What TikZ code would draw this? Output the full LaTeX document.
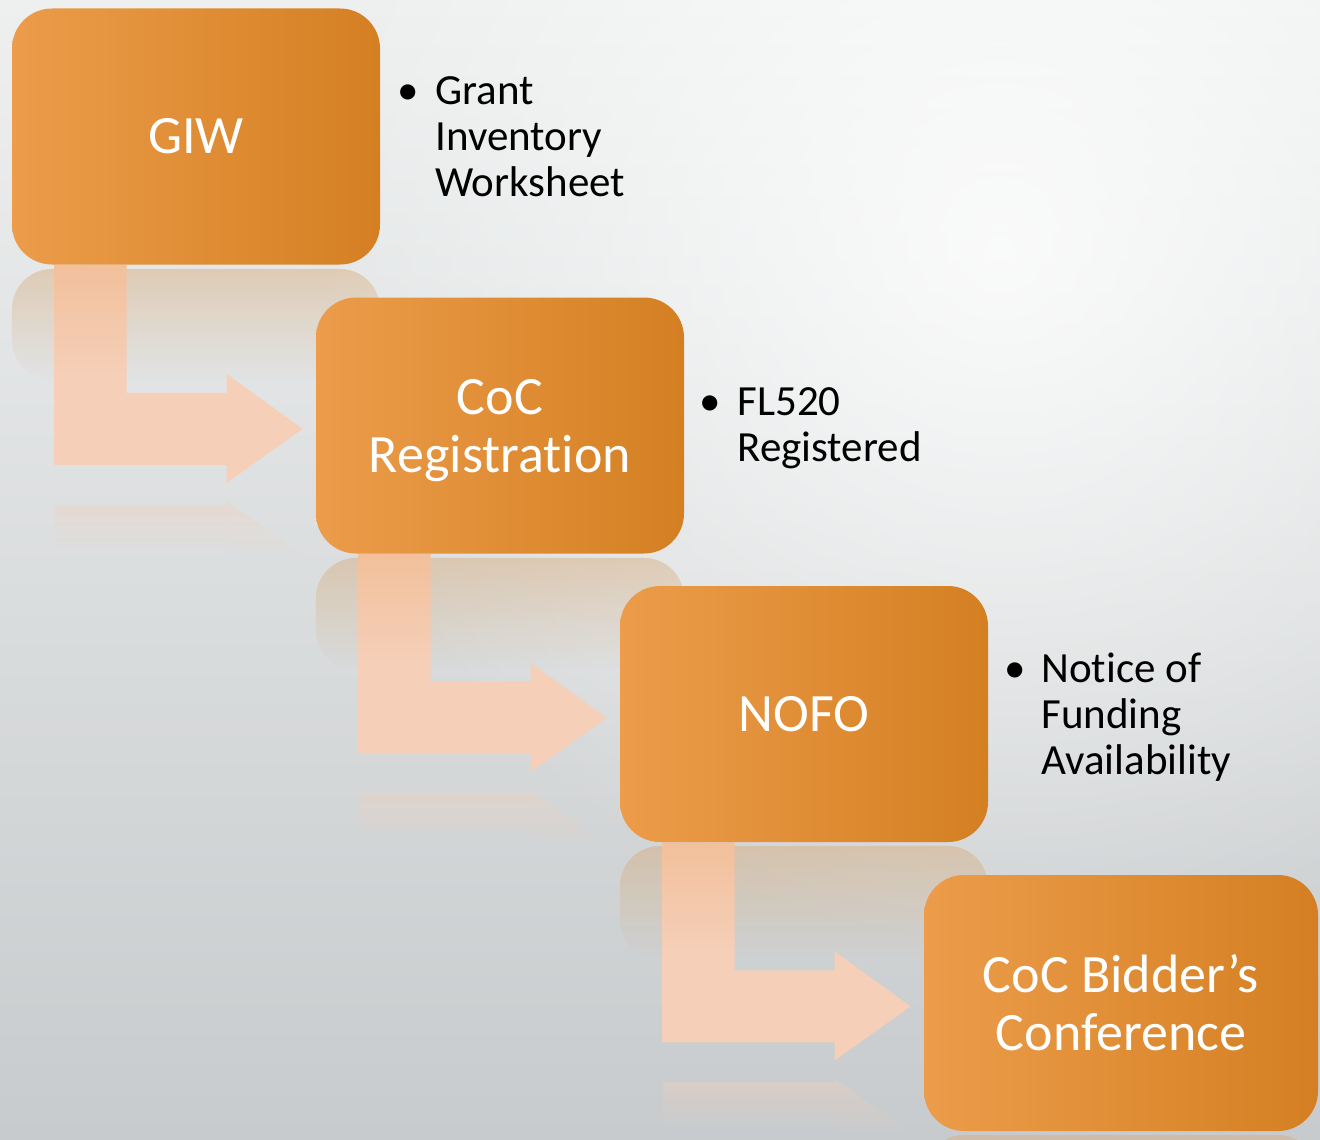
\documentclass[tikz,border=0pt]{standalone}
\usepackage{fontspec}
\setmainfont[Ligatures=NoCommon]{Carlito}
\usetikzlibrary{fadings}

\definecolor{bgtop}{RGB}{238,240,240}
\definecolor{bgbot}{RGB}{200,203,205}
\definecolor{boxlight}{RGB}{236,156,74}
\definecolor{boxdark}{RGB}{212,127,34}
\definecolor{arrowpeach}{RGB}{245,207,184}
\definecolor{arrowtop}{RGB}{242,192,155}
\definecolor{reflecttan}{RGB}{214,170,120}

\pgfdeclarelayer{back}
\pgfdeclarelayer{arrows}
\pgfsetlayers{back,arrows,main}

\tikzfading[name=softglow, inner color=transparent!0, outer color=transparent!100]

\tikzset{every picture/.style={line width=0.75pt}}
\tikzset{
  stepbox/.style={rounded corners=20pt, minimum width=184pt, minimum height=128pt,
    left color=boxlight, right color=boxdark, text=white, align=center,
    font=\fontsize{27}{29}\selectfont, inner sep=0pt},
  bulletnote/.style={anchor=north west, align=left, inner sep=0pt,
    font=\fontsize{21.5}{23}\selectfont},
  bentarrow/.style={top color=arrowtop, bottom color=arrowpeach, middle color=arrowpeach},
  reflect/.style={fill=reflecttan, fill opacity=0.45, path fading=south},
}

\newcommand{\bentarrowshape}[1]{%
  \begin{scope}[shift={(#1.south west)}]
    % faint reflection under the bar
    \fill[fill=arrowpeach, fill opacity=0.35, path fading=south] (43,240) rectangle (215,285);
    \fill[fill=arrowpeach, fill opacity=0.35, path fading=south] (215,236) -- (291,290) -- (215,290) -- cycle;
    % bent arrow
    \shade[bentarrow] (43,0) -- (115,0) -- (115,128) -- (215,128) -- (215,109) -- (291,164)
      -- (215,218) -- (215,200) -- (43,200) -- cycle;
  \end{scope}}

\begin{document}
\begin{tikzpicture}[x=0.5pt,y=-0.5pt]
\useasboundingbox (0,0) rectangle (1320,1139);

\begin{pgfonlayer}{back}
%Background
\shade[top color=bgtop, bottom color=bgbot] (0,0) rectangle (1320,1139);
\fill[white, opacity=0.8, path fading=softglow] (1000,250) circle (700);

%Reflections of the boxes
\fill[reflect, rounded corners=20pt] (12,269) rectangle (380,380);
\fill[reflect, rounded corners=20pt] (316,558) rectangle (684,670);
\fill[reflect, rounded corners=20pt] (620,846) rectangle (988,960);
\fill[reflect, rounded corners=20pt] (924,1135) rectangle (1318,1200);
\end{pgfonlayer}

%Boxes
\node[stepbox] (giw) at (196,136.5) {GIW};
\node[stepbox, text depth=0pt] (reg) at (500,425.5) {CoC\\Registration};
\node[stepbox] (nofo) at (804,714) {NOFO};
\node[stepbox, minimum width=197pt] (bidder) at (1121,1003) {CoC Bidder’s\\Conference};

%Bent arrows between the boxes
\begin{pgfonlayer}{arrows}
\bentarrowshape{giw}
\bentarrowshape{reg}
\bentarrowshape{nofo}
\end{pgfonlayer}

%Notes
\node[bulletnote] (giwnote) at (435,76) {\llap{\textbullet\hspace{8pt}}Grant\\Inventory\\Worksheet};
\node[bulletnote] (regnote) at (737,387) {\llap{\textbullet\hspace{8pt}}FL520\\Registered};
\node[bulletnote] (nofonote) at (1041,653) {\llap{\textbullet\hspace{8pt}}Notice of\\Funding\\Availability};

\end{tikzpicture}
\end{document}
